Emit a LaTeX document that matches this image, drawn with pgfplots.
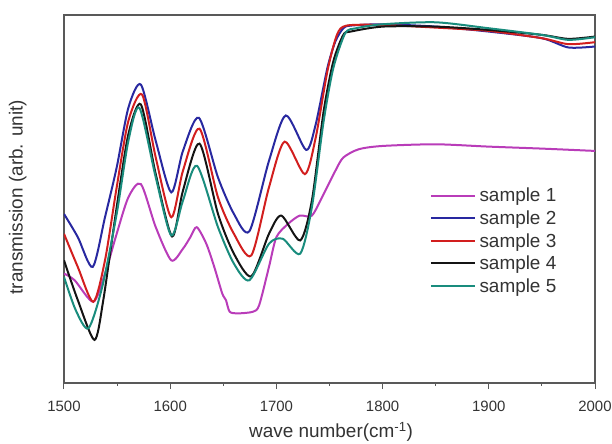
\documentclass[border=0pt]{standalone}
\usepackage{fontspec}
\setmainfont{Liberation Sans}
\usepackage{pgfplots}
\pgfplotsset{compat=1.18}
\definecolor{cS1}{RGB}{185,60,185}
\definecolor{cS2}{RGB}{40,40,160}
\definecolor{cS3}{RGB}{210,30,30}
\definecolor{cS4}{RGB}{20,20,20}
\definecolor{cS5}{RGB}{25,140,125}
\begin{document}
\begin{tikzpicture}
\begin{axis}[
  scale only axis,
  width=531bp, height=368bp,
  xmin=1500, xmax=2000, ymin=0, ymax=111,
  xtick={1500,1600,...,2000},
  minor x tick num=1,
  ytick=\empty,
  xtick pos=bottom,
  tick align=outside,
  major tick length=6bp, minor tick length=2.5bp,
  axis line style={black!65, line width=1.1bp},
  every tick/.style={black!65, line width=1bp},
  /pgf/number format/assume math mode=true,
  /pgf/number format/1000 sep={},
  xticklabel style={font=\fontsize{15}{18}\selectfont, text=black!80, anchor=base, yshift=-22.5bp},
  xlabel={wave number(cm\textsuperscript{-1})},
  ylabel={transmission (arb. unit)},
  xlabel style={font=\fontsize{19}{22}\selectfont, text=black!80, at={(axis description cs:0.503,-0.133)}, anchor=center},
  ylabel style={font=\fontsize{19}{22}\selectfont, text=black!80, at={(axis description cs:-0.087,0.505)}, anchor=center},
  legend style={at={(axis description cs:0.683,0.545)}, anchor=north west, draw=none, fill=none,
    font=\fontsize{19}{22}\selectfont, text=black!80, row sep=0pt, nodes={inner sep=3.65bp}},
  legend cell align=left,
  legend image code/.code={\draw[#1] (0bp,0bp) -- (44bp,0bp);},
  every axis plot/.append style={line width=2bp, smooth, tension=0.45},
]
\addplot[cS1] coordinates {(1500,33) (1510,31) (1527.6,24.5) (1538.6,33) (1549.6,45) (1560.6,56) (1572.4,60) (1586.4,47) (1601,37) (1612,40.5) (1619,44) (1625,47) (1634,42) (1641.5,35) (1649,27) (1652.5,25) (1656,21.5) (1663.6,21) (1678,21.5) (1683.8,23.5) (1693,35) (1700,44) (1711,48) (1722,50.5) (1733.4,50.5) (1744.5,57) (1755.5,64) (1763,68) (1777.5,70.5) (1800,71.5) (1850,72) (1900,71.3) (1950,70.7) (2000,70)};
\addlegendentry{sample 1}
\addplot[cS2] coordinates {(1500,51) (1513,44) (1527,35) (1538.6,50) (1549.6,65) (1560.6,83) (1572.4,90) (1586.4,73) (1601,57.5) (1612,70) (1627,80) (1645,62) (1660,51) (1674.6,45.8) (1693,67) (1708.8,80.7) (1728,70.3) (1737,78) (1748,95) (1755.5,103) (1763,107) (1770,107.8) (1800,108.2) (1850,107.5) (1900,106) (1950,104) (1975,101.2) (2000,101.5)};
\addlegendentry{sample 2}
\addplot[cS3] coordinates {(1500,45) (1513,35) (1527.6,24.5) (1538.6,37) (1549.6,59) (1560.6,79) (1573.5,87) (1586.4,68) (1601,50) (1612,64) (1627.6,76.7) (1645,56) (1660,45) (1676.4,38.5) (1693,59) (1707.7,72.8) (1726.8,63) (1737,74) (1748,94) (1757,105) (1766,107.8) (1800,108) (1850,107.2) (1900,106.2) (1950,104) (1975,102.2) (2000,102.8)};
\addlegendentry{sample 3}
\addplot[cS4] coordinates {(1500,37) (1513,25) (1528.7,13) (1537,25) (1549.6,53) (1560.6,75) (1572.4,84) (1586.4,63) (1601.8,44.2) (1612,58) (1627.6,72.2) (1645,51) (1660,39) (1676.4,32.2) (1693,45) (1704.7,50.5) (1722.4,43) (1733.4,55) (1744.5,82) (1753.6,97) (1763,105) (1770,106) (1800,107.5) (1850,107.5) (1900,106.5) (1950,105) (1975,103.8) (2000,104.5)};
\addlegendentry{sample 4}
\addplot[cS5] coordinates {(1500,32) (1511,22) (1523,16.5) (1536,29) (1549.6,51) (1560.6,73) (1571,83) (1586.4,62) (1601,44.5) (1612,55) (1625.3,65.5) (1645,47) (1660,36) (1674.6,31) (1693,42) (1706,43.5) (1722.4,39) (1733.4,53) (1744.5,79) (1753.6,95) (1764.8,105.5) (1775,107) (1800,108.2) (1850,108.8) (1900,107) (1950,105) (1975,103.5) (2000,104.3)};
\addlegendentry{sample 5}
\end{axis}
\pgfresetboundingbox
\useasboundingbox ([shift={(-64bp,-61bp)}]current axis.south west) rectangle ([shift={(17bp,15bp)}]current axis.north east);
\end{tikzpicture}
\end{document}
